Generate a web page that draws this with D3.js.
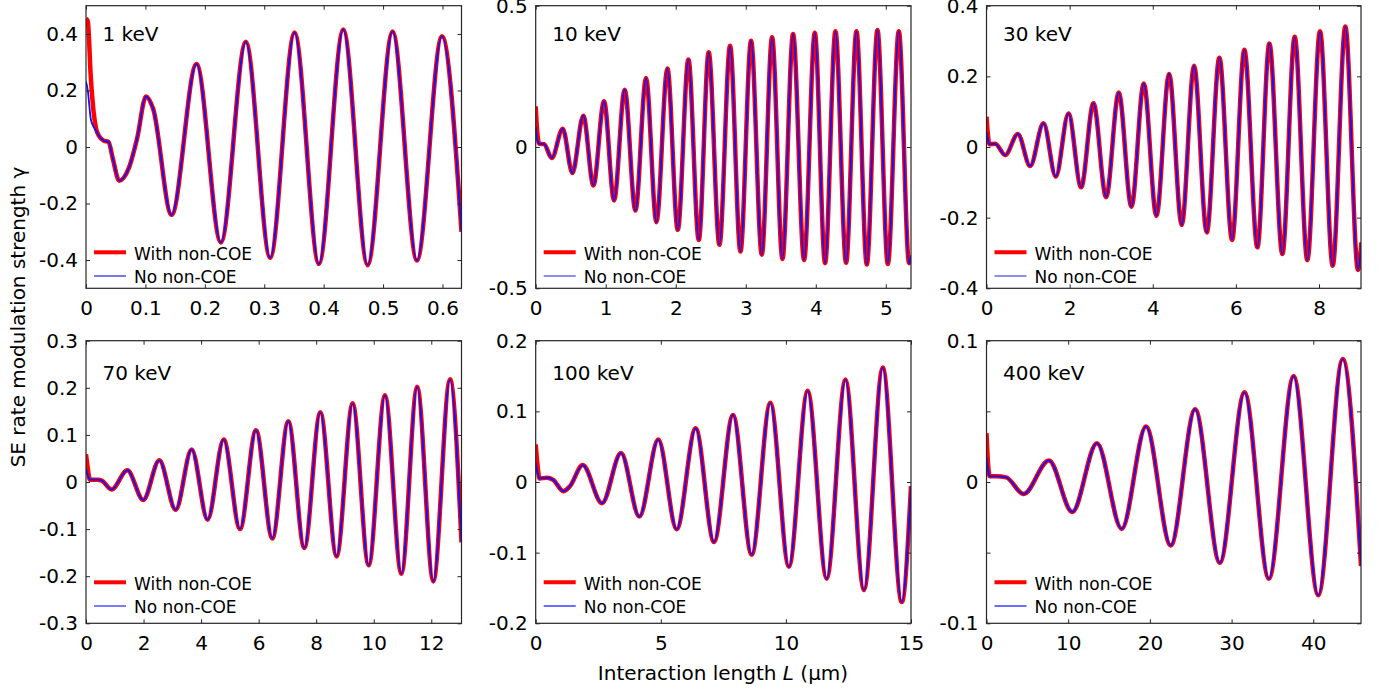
<!DOCTYPE html>
<html>
<head>
<meta charset="utf-8">
<script src="https://cdn.jsdelivr.net/npm/d3@7"></script>
<style>
  html, body { margin: 0; padding: 0; background: #fff; }
  svg { display: block; font-family: 'DejaVu Sans', sans-serif; }
</style>
</head>
<body>
<svg id="chart" width="1392" height="690"></svg>
<script>
// panel titles and legend entries
const energies = ['1 keV', '10 keV', '30 keV', '70 keV', '100 keV', '400 keV'];
const seriesNames = ['With non-COE', 'No non-COE'];

// 1 keV: the two runs only differ at the very start, then they share the same trace
const withStart1 = [[0, 0.454], [0.003, 0.446], [0.008, 0.25], [0.013, 0.12], [0.017, 0.065]];
const noStart1 = [[0, 0.232], [0.003, 0.2], [0.008, 0.1], [0.013, 0.07], [0.017, 0.058]];
const shared1 = [[0.022, 0.039], [0.03, 0.022], [0.038, 0.018], [0.045, -0.04], [0.056, -0.119],
  [0.072, -0.075], [0.086, 0.03], [0.101, 0.179], [0.113, 0.135], [0.144, -0.24], [0.186, 0.294],
  [0.227, -0.338], [0.269, 0.372], [0.31, -0.392], [0.351, 0.405], [0.392, -0.414], [0.433, 0.416],
  [0.474, -0.418], [0.516, 0.409], [0.557, -0.402], [0.599, 0.392], [0.632, -0.3]];

// 10 keV
const withStart2 = [[0, 0.144], [0.02, 0.06]];
const noStart2 = [[0, 0.073], [0.02, 0.03]];
const shared2 = [[0.05, 0.012], [0.12, 0.01], [0.23, -0.039], [0.386, 0.065], [0.524, -0.092],
  [0.68, 0.111], [0.824, -0.136], [0.976, 0.162], [1.119, -0.189], [1.271, 0.203], [1.424, -0.225],
  [1.576, 0.244], [1.724, -0.266], [1.881, 0.278], [2.029, -0.293], [2.181, 0.31], [2.329, -0.329],
  [2.471, 0.335], [2.624, -0.346], [2.776, 0.358], [2.924, -0.37], [3.076, 0.376], [3.229, -0.381],
  [3.376, 0.388], [3.524, -0.396], [3.676, 0.4], [3.833, -0.4], [3.986, 0.404], [4.133, -0.411],
  [4.281, 0.41], [4.433, -0.41], [4.581, 0.41], [4.729, -0.416], [4.881, 0.414], [5.029, -0.414],
  [5.186, 0.41], [5.333, -0.411], [5.36, -0.384]];

// 30 keV
const withStart3 = [[0, 0.086], [0.03, 0.04]];
const noStart3 = [[0, 0.043], [0.03, 0.025]];
const shared3 = [[0.07, 0.008], [0.21, 0.009], [0.45, -0.023], [0.754, 0.037], [1.05, -0.054],
  [1.371, 0.067], [1.667, -0.084], [1.972, 0.095], [2.277, -0.114], [2.573, 0.124], [2.878, -0.142],
  [3.182, 0.154], [3.487, -0.169], [3.784, 0.18], [4.088, -0.195], [4.393, 0.207], [4.697, -0.221],
  [4.994, 0.23], [5.299, -0.242], [5.603, 0.253], [5.908, -0.263], [6.204, 0.275], [6.517, -0.284],
  [6.806, 0.293], [7.118, -0.303], [7.415, 0.312], [7.719, -0.32], [8.024, 0.328], [8.329, -0.336],
  [8.633, 0.341], [8.938, -0.348], [9.02, -0.27]];

// 70 keV
const withStart4 = [[0, 0.059], [0.06, 0.03]];
const noStart4 = [[0, 0.028], [0.06, 0.015]];
const shared4 = [[0.13, 0.005], [0.4, 0.005], [0.55, 0.003], [0.89, -0.016], [1.436, 0.025],
  [1.99, -0.038], [2.548, 0.046], [3.116, -0.059], [3.672, 0.069], [4.228, -0.08], [4.784, 0.09],
  [5.352, -0.1], [5.908, 0.11], [6.475, -0.12], [7.031, 0.129], [7.587, -0.14], [8.143, 0.148],
  [8.71, -0.158], [9.267, 0.167], [9.823, -0.177], [10.39, 0.184], [10.96, -0.195], [11.51, 0.202],
  [12.07, -0.211], [12.65, 0.218], [13.05, -0.128]];

// 100 keV
const withStart5 = [[0, 0.053], [0.07, 0.025]];
const noStart5 = [[0, 0.027], [0.07, 0.014]];
const shared5 = [[0.15, 0.005], [0.44, 0.006], [0.7, 0.003], [1.106, -0.013], [1.37, -0.006],
  [1.878, 0.024], [2.651, -0.03], [3.41, 0.041], [4.143, -0.049], [4.9, 0.06], [5.635, -0.067],
  [6.394, 0.076], [7.127, -0.085], [7.886, 0.095], [8.632, -0.103], [9.378, 0.112], [10.12, -0.12],
  [10.87, 0.129], [11.63, -0.137], [12.38, 0.145], [13.12, -0.153], [13.87, 0.162], [14.63, -0.17],
  [15, -0.006]];

// 400 keV
const withStart6 = [[0, 0.0346], [0.2, 0.012]];
const noStart6 = [[0, 0.0176], [0.2, 0.008]];
const shared6 = [[0.4, 0.004], [1.2, 0.004], [2.4, 0.0033], [4.535, -0.0085], [7.64, 0.0153],
  [10.5, -0.0212], [13.52, 0.0275], [16.55, -0.0332], [19.53, 0.0393], [22.55, -0.0449],
  [25.54, 0.0515], [28.56, -0.0572], [31.58, 0.0635], [34.57, -0.0685], [37.59, 0.075],
  [40.61, -0.0802], [43.6, 0.087], [45.84, -0.0595]];

// axis ranges
const xDomains = [[0, 0.632], [0, 5.36], [0, 9.01], [0, 13.05], [0, 15], [0, 45.84]];
const yDomains = [[-0.5, 0.5], [-0.5, 0.5], [-0.4, 0.4], [-0.3, 0.3], [-0.2, 0.2], [-0.1, 0.1]];

// tick values and labels
const xTicks = [
  [0, 0.1, 0.2, 0.3, 0.4, 0.5, 0.6],
  [0, 1, 2, 3, 4, 5],
  [0, 2, 4, 6, 8],
  [0, 2, 4, 6, 8, 10, 12],
  [0, 5, 10, 15],
  [0, 10, 20, 30, 40]
];
const xTickLabels = [
  ['0', '0.1', '0.2', '0.3', '0.4', '0.5', '0.6'],
  ['0', '1', '2', '3', '4', '5'],
  ['0', '2', '4', '6', '8'],
  ['0', '2', '4', '6', '8', '10', '12'],
  ['0', '5', '10', '15'],
  ['0', '10', '20', '30', '40']
];
const yTicks = [
  [-0.4, -0.2, 0, 0.2, 0.4],
  [-0.5, 0, 0.5],
  [-0.4, -0.2, 0, 0.2, 0.4],
  [-0.3, -0.2, -0.1, 0, 0.1, 0.2, 0.3],
  [-0.2, -0.1, 0, 0.1, 0.2],
  [-0.1, -0.05, 0, 0.05, 0.1]
];
const yTickLabels = [
  ['-0.4', '-0.2', '0', '0.2', '0.4'],
  ['-0.5', '0', '0.5'],
  ['-0.4', '-0.2', '0', '0.2', '0.4'],
  ['-0.3', '-0.2', '-0.1', '0', '0.1', '0.2', '0.3'],
  ['-0.2', '-0.1', '0', '0.1', '0.2'],
  ['-0.1', '', '0', '', '0.1']
];

const withStarts = [withStart1, withStart2, withStart3, withStart4, withStart5, withStart6];
const noStarts = [noStart1, noStart2, noStart3, noStart4, noStart5, noStart6];
const shareds = [shared1, shared2, shared3, shared4, shared5, shared6];

// page layout of the 2 x 3 grid
const colLeft = [86, 535.7, 986.5];
const colRight = [461.5, 911, 1361];
const rowTop = [5.7, 340.7];
const rowBottom = [288.3, 623.3];
const legendRed = [36, 41];
const legendBlue = [12.3, 17.3];
const legendBlueColor = ['#1f1fd8', '#6d6dff'];

const axisColor = '#262626';
const svg = d3.select('#chart');

function drawPanel(i) {
  const col = i % 3;
  const row = Math.floor(i / 3);
  const left = colLeft[col];
  const right = colRight[col];
  const top = rowTop[row];
  const bottom = rowBottom[row];

  const x = d3.scaleLinear().domain(xDomains[i]).range([left, right]);
  const y = d3.scaleLinear().domain(yDomains[i]).range([bottom, top]);

  const g = svg.append('g');

  g.append('clipPath')
    .attr('id', `clip-${i}`)
    .append('rect')
    .attr('x', left)
    .attr('y', top)
    .attr('width', right - left)
    .attr('height', bottom - top);

  const line = d3
    .line()
    .x((d) => x(d[0]))
    .y((d) => y(d[1]))
    .curve(d3.curveMonotoneX);

  const curves = g.append('g').attr('clip-path', `url(#clip-${i})`);

  curves
    .append('path')
    .datum(withStarts[i].concat(shareds[i]))
    .attr('fill', 'none')
    .attr('stroke', '#ff0000')
    .attr('stroke-width', 4.5)
    .attr('stroke-linejoin', 'round')
    .attr('d', line);

  curves
    .append('path')
    .datum(noStarts[i].concat(shareds[i]))
    .attr('fill', 'none')
    .attr('stroke', '#1010ff')
    .attr('stroke-width', 1.8)
    .attr('stroke-linejoin', 'round')
    .attr('d', line);

  // axes: ticks pointing inward on all four sides, labels only left / bottom
  const styleAxis = (sel) => {
    sel.select('.domain').remove();
    sel.selectAll('line').attr('stroke', axisColor);
    sel.selectAll('text').attr('fill', '#000').attr('font-size', 20).attr('font-family', 'DejaVu Sans');
  };

  g.append('g')
    .attr('transform', `translate(0, ${bottom})`)
    .call(d3.axisBottom(x).tickValues(xTicks[i]).tickFormat((d, k) => xTickLabels[i][k]).tickSize(-4).tickPadding(13))
    .call(styleAxis);

  g.append('g')
    .attr('transform', `translate(0, ${top})`)
    .call(d3.axisTop(x).tickValues(xTicks[i]).tickFormat('').tickSize(-4))
    .call(styleAxis);

  g.append('g')
    .attr('transform', `translate(${left}, 0)`)
    .call(d3.axisLeft(y).tickValues(yTicks[i]).tickFormat((d, k) => yTickLabels[i][k]).tickSize(-4).tickPadding(8))
    .call(styleAxis);

  g.append('g')
    .attr('transform', `translate(${right}, 0)`)
    .call(d3.axisRight(y).tickValues(yTicks[i]).tickFormat('').tickSize(-4))
    .call(styleAxis);

  g.append('rect')
    .attr('x', left)
    .attr('y', top)
    .attr('width', right - left)
    .attr('height', bottom - top)
    .attr('fill', 'none')
    .attr('stroke', axisColor)
    .attr('stroke-width', 1.2);

  g.append('text')
    .attr('x', left + 16.5)
    .attr('y', top + (row === 0 ? 35.5 : 39.5))
    .attr('font-size', 20)
    .attr('fill', '#000')
    .text(energies[i]);

  // legend, lower left corner
  const legend = [
    { y: bottom - legendRed[row], color: '#ff0000', width: 4, name: seriesNames[0] },
    { y: bottom - legendBlue[row], color: legendBlueColor[row], width: row === 0 ? 1.2 : 1.8, name: seriesNames[1] }
  ];

  legend.forEach((item) => {
    g.append('line')
      .attr('x1', left + 8)
      .attr('x2', left + 40)
      .attr('y1', item.y)
      .attr('y2', item.y)
      .attr('stroke', item.color)
      .attr('stroke-width', item.width);
    g.append('text')
      .attr('x', left + 48)
      .attr('y', item.y + 7.2)
      .attr('font-size', 17)
      .attr('fill', '#000')
      .text(item.name);
  });
}

d3.range(6).forEach(drawPanel);

// shared axis titles
svg.append('text')
  .attr('transform', 'translate(25, 317) rotate(-90)')
  .attr('text-anchor', 'middle')
  .attr('font-size', 20)
  .attr('fill', '#000')
  .text('SE rate modulation strength γ');

const xTitle = svg.append('text')
  .attr('x', 723)
  .attr('y', 680)
  .attr('text-anchor', 'middle')
  .attr('font-size', 20)
  .attr('fill', '#000');
xTitle.append('tspan').text('Interaction length ');
xTitle.append('tspan').attr('font-style', 'italic').text('L');
xTitle.append('tspan').text(' (μm)');
</script>
</body>
</html>
